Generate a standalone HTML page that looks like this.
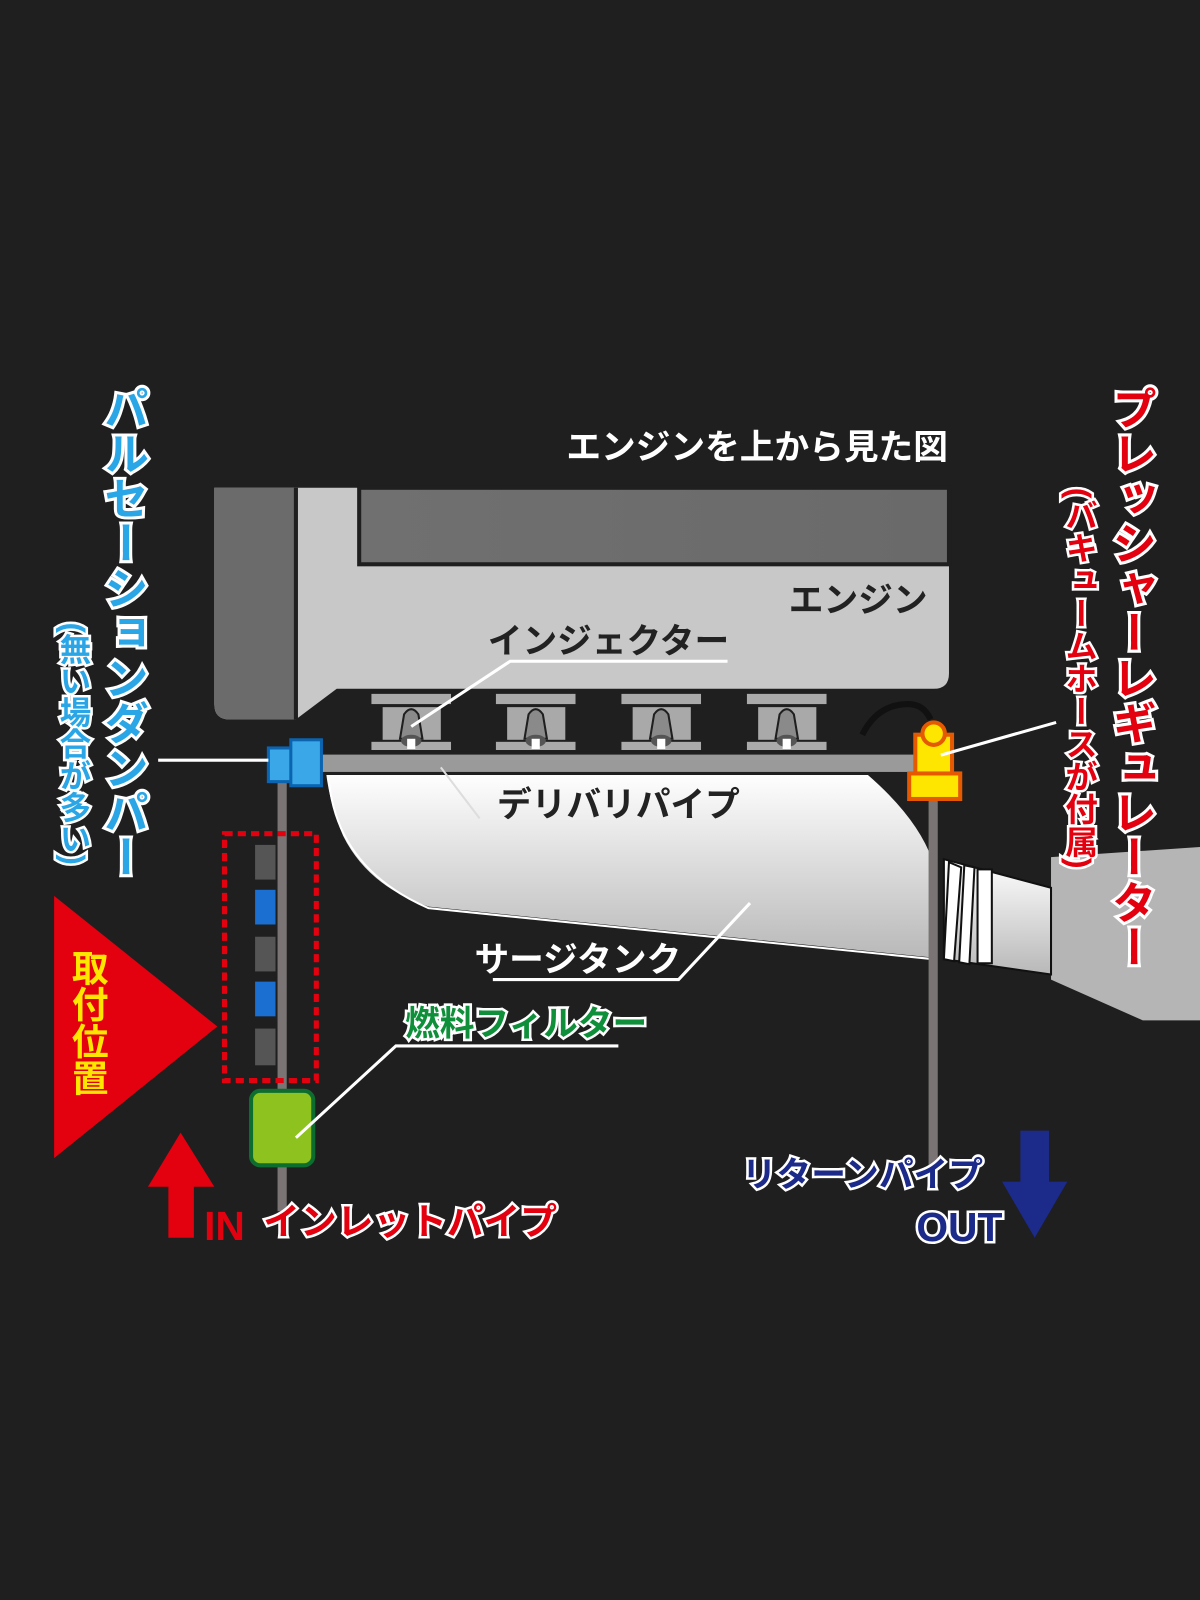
<!DOCTYPE html>
<html><head><meta charset="utf-8">
<style>
html,body{margin:0;padding:0;background:#1f1f1f;}
svg{display:block;}
text{font-family:"Liberation Sans","Noto Sans CJK JP",sans-serif;font-weight:bold;}
.v{writing-mode:vertical-rl;}
</style></head>
<body>
<svg width="1200" height="1600" viewBox="0 0 1176 1568" xmlns="http://www.w3.org/2000/svg">
<defs>
<linearGradient id="tank" x1="0" y1="0" x2="0" y2="1">
<stop offset="0" stop-color="#ffffff"/><stop offset="1" stop-color="#b8b8b8"/>
</linearGradient>
<linearGradient id="top" x1="0" y1="0" x2="1" y2="0">
<stop offset="0" stop-color="#707070"/><stop offset="1" stop-color="#6a6a6a"/>
</linearGradient>
</defs>
<rect width="1176" height="1568" fill="#1f1f1f"/>

<!-- engine -->
<path d="M210 478 H930 V660 Q930 675 915 675 H330 L290 705 H225 Q210 705 210 690 Z" fill="#c8c8c8"/>
<path d="M210 478 H290 V705 H225 Q210 705 210 690 Z" fill="#6b6b6b"/>
<rect x="352" y="478" width="578" height="75" fill="url(#top)" stroke="#1f1f1f" stroke-width="4"/>
<rect x="288" y="478" width="4" height="227" fill="#1f1f1f"/>
<text x="773" y="600" font-size="34" fill="#222">エンジン</text>
<text x="478" y="640" font-size="34" fill="#222">インジェクター</text>

<!-- injectors -->
<g id="inj">
<rect x="364" y="680" width="78" height="10" fill="#aaa"/>
<rect x="375" y="693" width="57" height="32" fill="#a9a9a9"/>
<path d="M392 724 L396 700 Q403 690 410 700 L414 724 Z" fill="#8a8a8a" stroke="#1f1f1f" stroke-width="2"/>
<rect x="364" y="727" width="78" height="8" fill="#aaa"/>
<ellipse cx="403" cy="726" rx="10" ry="6" fill="#555"/>
<rect x="399" y="724" width="8" height="10" fill="#fff"/>
</g>
<use href="#inj" x="122"/>
<use href="#inj" x="245"/>
<use href="#inj" x="368"/>

<!-- hose arc -->
<path d="M845 720 Q860 690 890 690 Q905 690 912 705" fill="none" stroke="#111" stroke-width="6"/>

<!-- surge tank -->
<path d="M1030 840 L1176 830 V1000 L1120 1000 L1030 960 Z" fill="#b5b5b5"/>
<path d="M925 842 L1030 870 V955 L925 940 Z" fill="url(#tank)" stroke="#111" stroke-width="2"/>
<path d="M318 757 H850 Q900 800 915 842 V940 L420 890 Q360 870 335 820 Q322 790 318 757 Z" fill="url(#tank)" stroke="#1f1f1f" stroke-width="3"/>
<path d="M322 760 Q328 850 420 890 L915 940" fill="none" stroke="#fff" stroke-width="2"/>
<path d="M930 845 L942 850 L935 942 L925 940 Z M945 848 L955 850 L950 945 L940 943 Z" fill="#fff" stroke="#111" stroke-width="2"/>
<rect x="958" y="852" width="14" height="92" fill="#fff" stroke="#111" stroke-width="2"/>

<!-- pipes -->
<rect x="272" y="757" width="9" height="430" fill="#7a7474"/>
<rect x="910" y="780" width="9" height="380" fill="#7a7474"/>
<rect x="300" y="738" width="600" height="20" fill="#9a9a9a" stroke="#1f1f1f" stroke-width="3"/>

<!-- damper -->
<rect x="263" y="733" width="26" height="33" fill="#3aa7e8" stroke="#0b64b0" stroke-width="3"/>
<rect x="285" y="725" width="30" height="45" fill="#3aa7e8" stroke="#0b64b0" stroke-width="3"/>

<!-- regulator -->
<rect x="897" y="720" width="36" height="42" fill="#ffe600" stroke="#e55a00" stroke-width="4"/>
<circle cx="915" cy="719" r="11" fill="#ffe600" stroke="#e55a00" stroke-width="4"/>
<rect x="891" y="758" width="50" height="25" fill="#ffe600" stroke="#e55a00" stroke-width="4"/>

<!-- dashed box & connectors -->
<rect x="220" y="817" width="90" height="242" fill="none" stroke="#e3000f" stroke-width="5" stroke-dasharray="8 5"/>
<g>
<rect x="250" y="828" width="20" height="34" fill="#555"/>
<rect x="250" y="872" width="20" height="34" fill="#1b6fd0"/>
<rect x="250" y="918" width="20" height="34" fill="#555"/>
<rect x="250" y="962" width="20" height="34" fill="#1b6fd0"/>
<rect x="250" y="1008" width="20" height="36" fill="#555"/>
</g>
<rect x="246" y="1069" width="61" height="73" rx="9" fill="#8dc21f" stroke="#0d6d2f" stroke-width="4"/>

<!-- triangle -->
<path d="M53 878 L213 1006 L53 1135 Z" fill="#e3000f"/>
<text class="v" x="85" y="930" font-size="36" fill="#ffe600">取付位置</text>

<!-- arrows -->
<path d="M165 1213 V1163 H145 L177 1110 L210 1163 H190 V1213 Z" fill="#e3000f"/>
<path d="M1000 1108 H1028 V1158 H1046 L1014 1213 L982 1158 H1000 Z" fill="#1c2a8a"/>

<!-- leader lines -->
<g stroke="#fff" stroke-width="3" fill="none">
<path d="M155 745 H263"/>
<path d="M403 712 L500 648 H713"/>
<path d="M470 802 L432 752" stroke="#ddd" stroke-width="2"/>
<path d="M735 885 L665 960 H483"/>
<path d="M290 1115 L388 1025 H606"/>
<path d="M922 740 L1035 708"/>
</g>

<!-- texts -->
<text x="555" y="450" font-size="34" fill="#fff">エンジンを上から見た図</text>
<text x="487" y="800" font-size="34" fill="#222">デリバリパイプ</text>
<text x="465" y="952" font-size="34" fill="#fff" font-weight="normal">サージタンク</text>
<text x="397" y="1015" font-size="34" fill="#0f8f3a" stroke="#fff" stroke-width="5" paint-order="stroke">燃料フィルター</text>
<text x="200" y="1215" font-size="40" fill="#e3000f">IN</text>
<text x="258" y="1210" font-size="36" fill="#e3000f" stroke="#fff" stroke-width="5" paint-order="stroke">インレットパイプ</text>
<text x="727" y="1163" font-size="34" fill="#1c2a8a" stroke="#fff" stroke-width="5" paint-order="stroke">リターンパイプ</text>
<text x="898" y="1216" font-size="40" fill="#1c2a8a" stroke="#fff" stroke-width="5" paint-order="stroke">OUT</text>

<text class="v" x="120" y="378" font-size="44" fill="#2aa6e6" stroke="#fff" stroke-width="6" paint-order="stroke">パルセーションダンパー</text>
<text class="v" x="72" y="610" font-size="31" fill="#2aa6e6" stroke="#fff" stroke-width="5" paint-order="stroke">(無い場合が多い)</text>
<text class="v" x="1108" y="378" font-size="44" fill="#e3000f" stroke="#fff" stroke-width="6" paint-order="stroke">プレッシャーレギュレーター</text>
<text class="v" x="1058" y="478" font-size="32" fill="#e3000f" stroke="#fff" stroke-width="5" paint-order="stroke">(バキュームホースが付属)</text>
</svg>
</body></html>
